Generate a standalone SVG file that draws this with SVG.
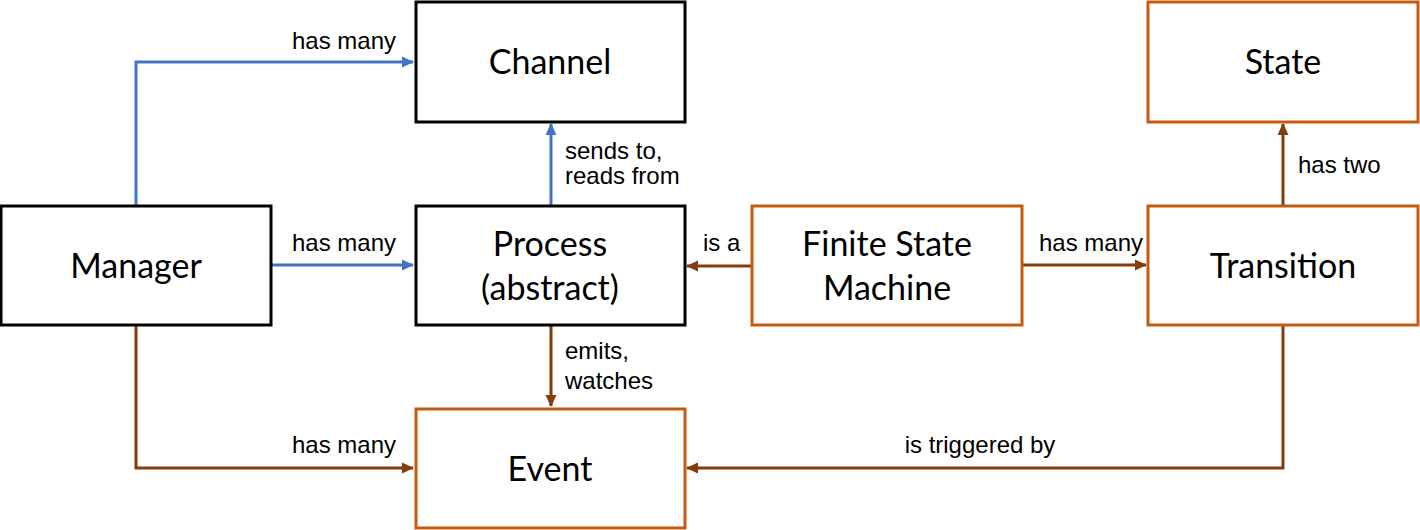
<svg xmlns="http://www.w3.org/2000/svg" width="1420" height="530" viewBox="0 0 1420 530">
<style>
.box{fill:#fff;stroke-width:3}
.blk{stroke:#000}
.org{stroke:#C55A11}
.nt{font-family:Lato,"Open Sans",sans-serif;font-size:34px;fill:#000;text-anchor:middle}
.lb{font-family:"Liberation Sans",Arial,sans-serif;font-size:24px;fill:#000}
.blue{fill:none;stroke:#4472C4;stroke-width:3}
.brown{fill:none;stroke:#843C0C;stroke-width:3}
</style>
<defs>
<marker id="ab" markerWidth="12" markerHeight="12" refX="11" refY="6" orient="auto" markerUnits="userSpaceOnUse" viewBox="0 0 12 12"><path d="M0,0.5 L12,6 L0,11.5 z" fill="#4472C4"/></marker>
<marker id="ar" markerWidth="12" markerHeight="12" refX="11" refY="6" orient="auto" markerUnits="userSpaceOnUse" viewBox="0 0 12 12"><path d="M0,0.5 L12,6 L0,11.5 z" fill="#843C0C"/></marker>
</defs>
<rect width="1420" height="530" fill="#fff"/>
<g id="connectors">
<path class="blue" d="M136,205 V62 H413" marker-end="url(#ab)"/>
<path class="blue" d="M271,265 H413" marker-end="url(#ab)"/>
<path class="blue" d="M551,205 V124" marker-end="url(#ab)"/>
<path class="brown" d="M752,266 H687" marker-end="url(#ar)"/>
<path class="brown" d="M1022,265 H1146" marker-end="url(#ar)"/>
<path class="brown" d="M1283,205 V124" marker-end="url(#ar)"/>
<path class="brown" d="M551,325 V406" marker-end="url(#ar)"/>
<path class="brown" d="M136,325 V468 H413" marker-end="url(#ar)"/>
<path class="brown" d="M1283,325 V468 H687" marker-end="url(#ar)"/>
<text class="lb" x="292" y="49">has many</text>
<text class="lb" x="292" y="251">has many</text>
<text class="lb" x="565" y="159">sends to,</text>
<text class="lb" x="565" y="184">reads from</text>
<text class="lb" x="703" y="251">is a</text>
<text class="lb" x="1039" y="251">has many</text>
<text class="lb" x="1298" y="173">has two</text>
<text class="lb" x="565" y="359">emits,</text>
<text class="lb" x="565" y="389">watches</text>
<text class="lb" x="292" y="453">has many</text>
<text class="lb" x="980" y="453" text-anchor="middle">is triggered by</text>
</g>
<g id="channel"><rect class="box blk" x="416" y="2" width="269" height="120"/><text class="nt" x="550" y="74">Channel</text></g>
<g id="manager"><rect class="box blk" x="1" y="206" width="270" height="119"/><text class="nt" x="136" y="278">Manager</text></g>
<g id="process"><rect class="box blk" x="416" y="206" width="269" height="119"/><text class="nt" x="550" y="256">Process</text><text class="nt" x="550" y="300">(abstract)</text></g>
<g id="fsm"><rect class="box org" x="752" y="206" width="270" height="119"/><text class="nt" x="887" y="256">Finite State</text><text class="nt" x="887" y="300">Machine</text></g>
<g id="transition"><rect class="box org" x="1148" y="206" width="270" height="119"/><text class="nt" x="1283" y="278">Transition</text></g>
<g id="state"><rect class="box org" x="1148" y="2" width="270" height="120"/><text class="nt" x="1283" y="74">State</text></g>
<g id="event"><rect class="box org" x="416" y="409" width="269" height="119"/><text class="nt" x="550" y="481">Event</text></g>
</svg>
